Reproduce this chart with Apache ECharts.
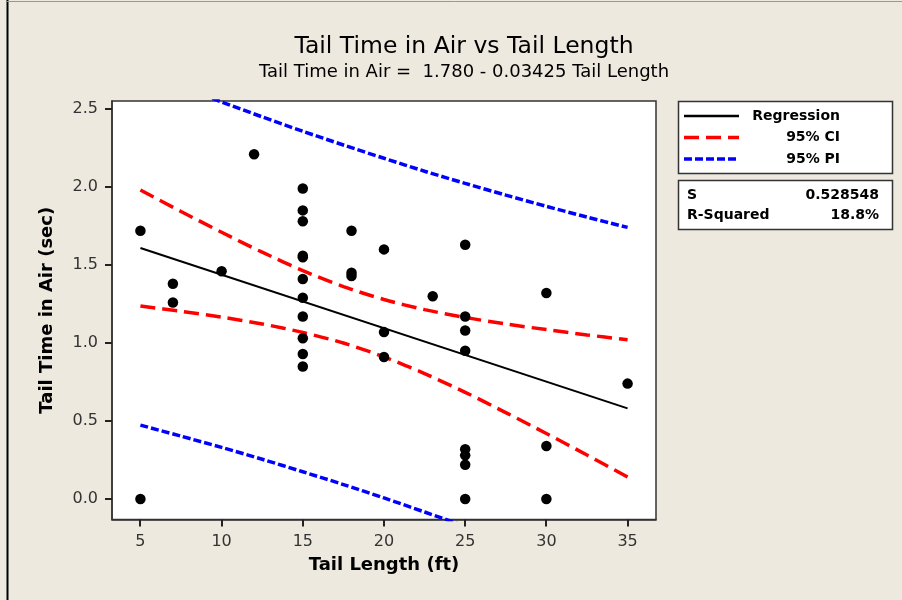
<!DOCTYPE html>
<html>
<head>
<meta charset="utf-8">
<script src="https://cdn.jsdelivr.net/npm/echarts@6/dist/echarts.min.js"></script>
<style>
  html, body { margin: 0; padding: 0; background: #EDE9DF; }
  #chart { width: 902px; height: 600px; }
</style>
</head>
<body>
<div id="chart"></div>
<script>
// Observed tail length (ft) and time in air (sec)
const tailLength = [5, 5, 7, 7, 10, 12,
  15, 15, 15, 15, 15, 15, 15, 15, 15, 15, 15,
  18, 18, 18, 20, 20, 20, 23,
  25, 25, 25, 25, 25, 25, 25, 25,
  30, 30, 30, 35];
const timeInAir = [1.72, 0.00, 1.38, 1.26, 1.46, 2.21,
  1.99, 1.85, 1.78, 1.56, 1.55, 1.41, 1.29, 1.17, 1.03, 0.93, 0.85,
  1.72, 1.45, 1.43, 1.60, 1.07, 0.91, 1.30,
  1.63, 1.17, 1.08, 0.95, 0.32, 0.28, 0.22, 0.00,
  1.32, 0.34, 0.00, 0.74];

// Fitted line: Tail Time in Air = 1.780 - 0.03425 Tail Length
const fitX = [5, 35];
const fitY = [1.609, 0.581];

// Confidence and prediction bands
const bandX = [5, 7.5, 10, 12.5, 15, 17.5, 20, 22.5, 25, 27.5, 30, 32.5, 35];
const ciUpper = [1.981, 1.843, 1.710, 1.582, 1.464, 1.362, 1.279, 1.214, 1.164, 1.122, 1.086, 1.052, 1.021];
const ciLower = [1.237, 1.203, 1.166, 1.122, 1.068, 1.000, 0.911, 0.804, 0.684, 0.554, 0.420, 0.282, 0.141];
const piUpper = [2.745, 2.643, 2.545, 2.449, 2.357, 2.269, 2.184, 2.101, 2.023, 1.948, 1.876, 1.807, 1.741];
const piLower = [0.474, 0.403, 0.331, 0.255, 0.175, 0.093, 0.007, -0.083, -0.175, -0.272, -0.370, -0.473, -0.579];

const xTicks = [5, 10, 15, 20, 25, 30, 35];
const yTicks = [0, 0.5, 1.0, 1.5, 2.0, 2.5];

const statNames = ['S', 'R-Squared'];
const statValues = ['0.528548', '18.8%'];
const legendNames = ['Regression', '95% CI', '95% PI'];

const zip = (a, b) => a.map((v, i) => [v, b[i]]);

const FONT = 'DejaVu Sans';
const X_MIN = 3.25, X_MAX = 36.75, Y_MIN = -0.131, Y_MAX = 2.551;

const chart = echarts.init(document.getElementById('chart'), null, { renderer: 'canvas' });

const lineStyles = [
  { color: '#000000', width: 2, type: 'solid' },
  { color: '#FF0000', width: 3.5, type: [15, 7] },
  { color: '#0000FF', width: 3.5, type: [8, 3] }
];

// Frame, legend box and statistics box
const graphics = [
  { type: 'line', shape: { x1: 7.5, y1: 0, x2: 7.5, y2: 600 }, style: { stroke: '#000', lineWidth: 2 } },
  { type: 'line', shape: { x1: 7, y1: 1.5, x2: 902, y2: 1.5 }, style: { stroke: '#9a978f', lineWidth: 1 } },
  { type: 'rect', shape: { x: 678.5, y: 101.5, width: 214, height: 72 }, style: { fill: '#fff', stroke: '#333', lineWidth: 1.5 } },
  { type: 'rect', shape: { x: 678.5, y: 180.5, width: 214, height: 49 }, style: { fill: '#fff', stroke: '#333', lineWidth: 1.5 } }
];
legendNames.forEach((name, i) => {
  const y = 116 + i * 21.5;
  const ls = lineStyles[i];
  graphics.push({
    type: 'line', shape: { x1: 684, y1: y, x2: 739, y2: y },
    style: { stroke: ls.color, lineWidth: i === 0 ? 2.5 : 3.5, lineDash: ls.type === 'solid' ? null : ls.type }
  });
  graphics.push({
    type: 'text', x: 840, y: y,
    style: { text: name, font: 'bold 14px "' + FONT + '"', fill: '#000', align: 'right', verticalAlign: 'middle' }
  });
});
statNames.forEach((name, i) => {
  const y = 195 + i * 20;
  graphics.push({
    type: 'text', x: 687, y: y,
    style: { text: name, font: 'bold 14px "' + FONT + '"', fill: '#000', align: 'left', verticalAlign: 'middle' }
  });
  graphics.push({
    type: 'text', x: 879, y: y,
    style: { text: statValues[i], font: 'bold 14px "' + FONT + '"', fill: '#000', align: 'right', verticalAlign: 'middle' }
  });
});

// Plot-area geometry shared by the grid and the tick marks
const GRID = { left: 112, top: 101, right: 246, bottom: 80.5 };
const PLOT_W = 902 - GRID.left - GRID.right;
const PLOT_H = 600 - GRID.top - GRID.bottom;
const TICK = 7;
const xPix = v => GRID.left + (v - X_MIN) / (X_MAX - X_MIN) * PLOT_W;
const yPix = v => GRID.top + (Y_MAX - v) / (Y_MAX - Y_MIN) * PLOT_H;
const axisBottom = 600 - GRID.bottom;
xTicks.forEach(v => {
  const px = Math.round(xPix(v));
  graphics.push({ type: 'rect', z: 100, shape: { x: px - 1, y: axisBottom, width: 2, height: TICK },
    style: { fill: '#222' } });
});
yTicks.forEach(v => {
  const py = Math.round(yPix(v));
  graphics.push({ type: 'rect', z: 100, shape: { x: GRID.left - TICK, y: py - 1, width: TICK, height: 2 },
    style: { fill: '#222' } });
});

const option = {
  backgroundColor: '#EDE9DF',
  animation: false,
  title: {
    text: 'Tail Time in Air vs Tail Length',
    subtext: 'Tail Time in Air =  1.780 - 0.03425 Tail Length',
    left: 459, top: 30, textAlign: 'center',
    itemGap: 4,
    textStyle: { fontFamily: FONT, fontSize: 23.5, fontWeight: 'normal', color: '#000' },
    subtextStyle: { fontFamily: FONT, fontSize: 18, color: '#000' }
  },
  grid: {
    left: GRID.left, top: GRID.top, right: GRID.right, bottom: GRID.bottom,
    show: true, backgroundColor: '#ffffff', borderColor: '#333', borderWidth: 1.5
  },
  xAxis: {
    type: 'value', min: X_MIN, max: X_MAX, position: 'bottom',
    name: 'Tail Length (ft)', nameLocation: 'middle', nameGap: 37,
    nameTextStyle: { fontFamily: FONT, fontSize: 18, fontWeight: 'bold', color: '#000' },
    splitLine: { show: false },
    axisLine: { show: true, onZero: false, lineStyle: { color: '#333', width: 1.5 } },
    axisTick: { show: false },
    axisLabel: { customValues: xTicks, margin: 14, fontFamily: FONT, fontSize: 16, color: '#333' }
  },
  yAxis: {
    type: 'value', min: Y_MIN, max: Y_MAX,
    name: 'Tail Time in Air (sec)', nameLocation: 'middle', nameGap: 56, nameRotate: 90,
    nameTextStyle: { fontFamily: FONT, fontSize: 18, fontWeight: 'bold', color: '#000' },
    splitLine: { show: false },
    axisLine: { show: true, onZero: false, lineStyle: { color: '#333', width: 1.5 } },
    axisTick: { show: false },
    axisLabel: {
      customValues: yTicks, margin: 14, fontFamily: FONT, fontSize: 16, color: '#333',
      formatter: v => v.toFixed(1)
    }
  },
  graphic: { elements: graphics },
  series: [
    {
      name: 'Regression', type: 'line', data: zip(fitX, fitY), showSymbol: false, clip: true,
      lineStyle: lineStyles[0], z: 3
    },
    {
      name: '95% CI upper', type: 'line', data: zip(bandX, ciUpper), showSymbol: false, smooth: 0.3, clip: true,
      lineStyle: lineStyles[1], z: 2
    },
    {
      name: '95% CI lower', type: 'line', data: zip(bandX, ciLower), showSymbol: false, smooth: 0.3, clip: true,
      lineStyle: lineStyles[1], z: 2
    },
    {
      name: '95% PI upper', type: 'line', data: zip(bandX, piUpper), showSymbol: false, smooth: 0.3, clip: true,
      lineStyle: lineStyles[2], z: 2
    },
    {
      name: '95% PI lower', type: 'line', data: zip(bandX, piLower), showSymbol: false, smooth: 0.3, clip: true,
      lineStyle: lineStyles[2], z: 2
    },
    {
      name: 'Observations', type: 'scatter', data: zip(tailLength, timeInAir),
      symbol: 'circle', symbolSize: 10.5, itemStyle: { color: '#000', opacity: 1 }, z: 5
    }
  ]
};

chart.setOption(option);
</script>
</body>
</html>
